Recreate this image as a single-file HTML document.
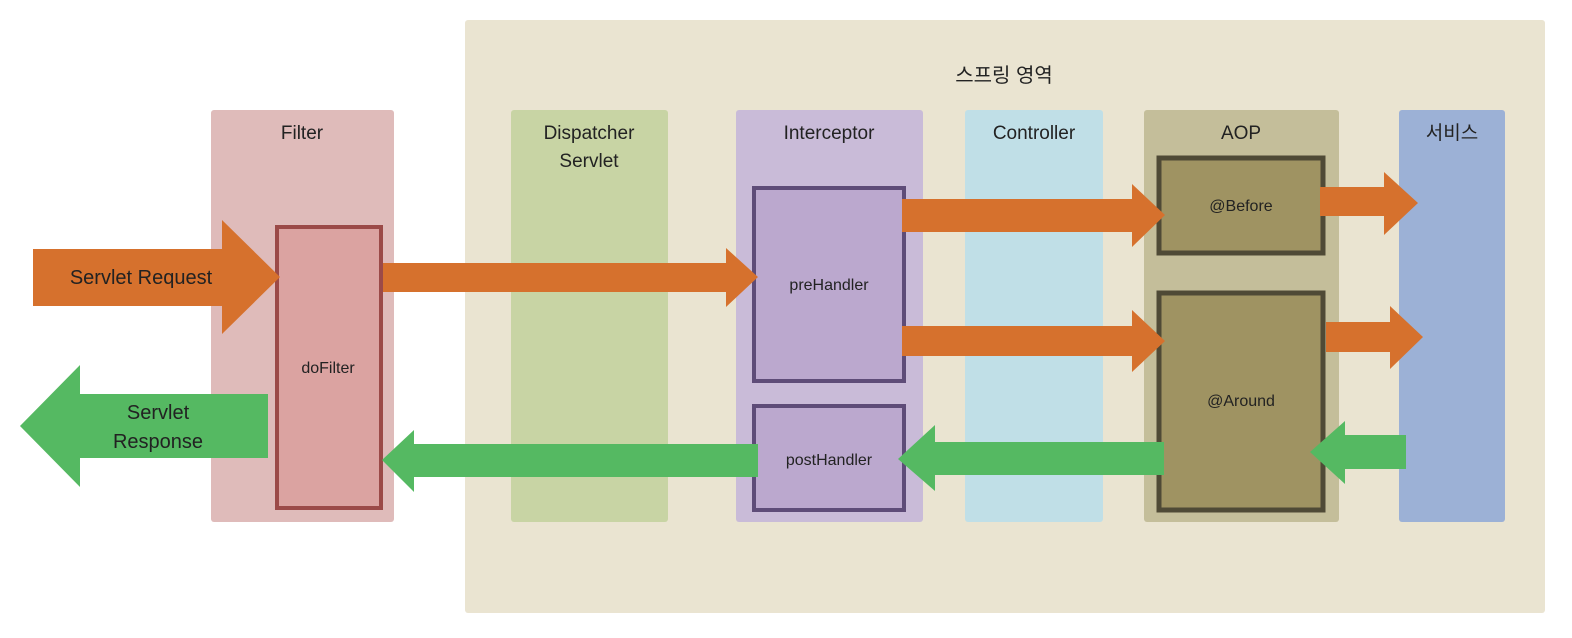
<!DOCTYPE html>
<html><head><meta charset="utf-8"><style>body{margin:0;background:#fff}svg{display:block}</style></head><body>
<svg width="1572" height="638" xmlns="http://www.w3.org/2000/svg" font-family="'Liberation Sans','Noto Sans CJK KR',sans-serif">
<rect x="465" y="20" width="1080" height="593" rx="3" fill="#EAE4D1"/>
<text x="1004" y="82" font-size="20" text-anchor="middle" fill="#222">스프링 영역</text>
<rect x="211" y="110" width="183" height="412" rx="3" fill="#DFBBBA"/>
<rect x="511" y="110" width="157" height="412" rx="3" fill="#C8D4A4"/>
<rect x="736" y="110" width="187" height="412" rx="3" fill="#C9BBD8"/>
<rect x="965" y="110" width="138" height="412" rx="3" fill="#C0DFE7"/>
<rect x="1144" y="110" width="195" height="412" rx="3" fill="#C4BE9A"/>
<rect x="1399" y="110" width="106" height="412" rx="3" fill="#9CB1D6"/>
<g font-size="19" fill="#222" text-anchor="middle">
<text x="302" y="139">Filter</text>
<text x="589" y="139">Dispatcher</text>
<text x="589" y="167">Servlet</text>
<text x="829" y="139">Interceptor</text>
<text x="1034" y="139">Controller</text>
<text x="1241" y="139">AOP</text>
<text x="1452" y="139">서비스</text>
</g>
<rect x="277" y="227" width="104" height="281" fill="#DBA3A1" stroke="#9B4A48" stroke-width="4"/>
<rect x="754" y="188" width="150" height="193" fill="#BBA8CE" stroke="#5E4C78" stroke-width="4"/>
<rect x="754" y="406" width="150" height="104" fill="#BBA8CE" stroke="#5E4C78" stroke-width="4"/>
<rect x="1159" y="158" width="164" height="95" fill="#9F9362" stroke="#4F4A36" stroke-width="5"/>
<rect x="1159" y="293" width="164" height="217" fill="#9F9362" stroke="#4F4A36" stroke-width="5"/>
<g fill="#D6712D">
<polygon points="33,249 222,249 222,220 280,277 222,334 222,306 33,306"/>
<polygon points="383,263 726,263 726,248 758,277 726,307 726,292 383,292"/>
<polygon points="902,199 1132,199 1132,184 1165,215 1132,247 1132,232 902,232"/>
<polygon points="902,326 1132,326 1132,310 1165,341 1132,372 1132,356 902,356"/>
<polygon points="1320,187 1384,187 1384,172 1418,203 1384,235 1384,216 1320,216"/>
<polygon points="1326,322 1390,322 1390,306 1423,337 1390,369 1390,352 1326,352"/>
</g>
<g fill="#55B962">
<polygon points="1406,435 1345,435 1345,421 1310,452 1345,484 1345,469 1406,469"/>
<polygon points="1164,442 935,442 935,425 898,459 935,491 935,475 1164,475"/>
<polygon points="758,444 414,444 414,430 382,460 414,492 414,477 758,477"/>
<polygon points="268,394 80,394 80,365 20,426 80,487 80,458 268,458"/>
</g>
<g font-size="20" fill="#222" text-anchor="middle">
<text x="141" y="284">Servlet Request</text>
<text x="158" y="419">Servlet</text>
<text x="158" y="448">Response</text>
</g>
<g font-size="16" fill="#222" text-anchor="middle">
<text x="328" y="373">doFilter</text>
<text x="829" y="290">preHandler</text>
<text x="829" y="465">postHandler</text>
<text x="1241" y="211">@Before</text>
<text x="1241" y="406">@Around</text>
</g>
</svg>
</body></html>
